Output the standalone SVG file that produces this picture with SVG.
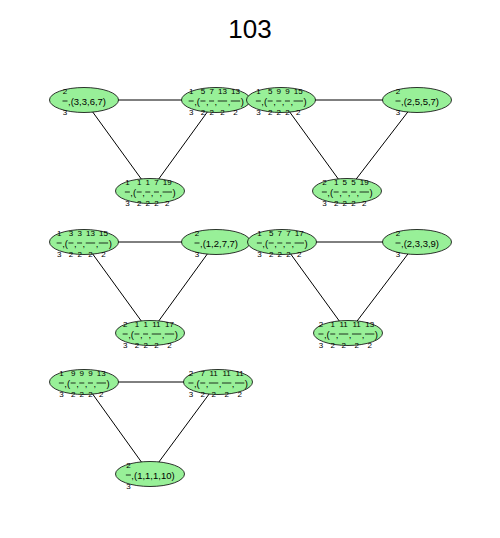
<svg xmlns="http://www.w3.org/2000/svg" width="500" height="538" viewBox="0 0 500 538">
<style>
.bg{fill:#ffffff}
.el{fill:#98f098;stroke:#000;stroke-width:0.8}
.e line{stroke:#000;stroke-width:1}
.f{font-family:"Liberation Sans",Arial,sans-serif;font-size:8px;fill:#000;text-anchor:middle}
.t{font-family:"Liberation Sans",Arial,sans-serif;font-size:9.5px;fill:#000}
.b{stroke:#000;stroke-width:0.8}
.title{font-family:"Liberation Sans",Arial,sans-serif;font-size:26px;fill:#000;text-anchor:middle}
</style>
<defs>
<g id="P1bars"><line class="b" x1="-27.35" y1="1" x2="-22.35" y2="1"/><line class="b" x1="-15.55" y1="1" x2="-10.55" y2="1"/><line class="b" x1="-6.91" y1="1" x2="-1.91" y2="1"/><line class="b" x1="1.73" y1="1" x2="11.13" y2="1"/><line class="b" x1="14.77" y1="1" x2="24.17" y2="1"/><text class="t" y="4.5"><tspan x="-21.85">,(</tspan><tspan x="-10.05">,</tspan><tspan x="-1.41">,</tspan><tspan x="11.63">,</tspan><tspan x="24.67">)</tspan></text></g>
<g id="P2bars"><line class="b" x1="-25.15" y1="1" x2="-20.15" y2="1"/><line class="b" x1="-13.35" y1="1" x2="-8.35" y2="1"/><line class="b" x1="-4.71" y1="1" x2="0.29" y2="1"/><line class="b" x1="3.93" y1="1" x2="8.93" y2="1"/><line class="b" x1="12.57" y1="1" x2="21.97" y2="1"/><text class="t" y="4.5"><tspan x="-19.65">,(</tspan><tspan x="-7.85">,</tspan><tspan x="0.79">,</tspan><tspan x="9.43">,</tspan><tspan x="22.47">)</tspan></text></g>
<g id="P3bars"><line class="b" x1="-29.55" y1="1" x2="-24.55" y2="1"/><line class="b" x1="-17.75" y1="1" x2="-12.75" y2="1"/><line class="b" x1="-9.11" y1="1" x2="0.29" y2="1"/><line class="b" x1="3.93" y1="1" x2="13.33" y2="1"/><line class="b" x1="16.97" y1="1" x2="26.37" y2="1"/><text class="t" y="4.5"><tspan x="-24.05">,(</tspan><tspan x="-12.25">,</tspan><tspan x="0.79">,</tspan><tspan x="13.83">,</tspan><tspan x="26.87">)</tspan></text></g>
<g id="Sbar"><line class="b" x1="-21.5" y1="1" x2="-16.5" y2="1"/><text class="f" x="-19" y="-6.5">2</text><text class="f" x="-19" y="14.5">3</text></g>
</defs>
<rect class="bg" x="0" y="0" width="500" height="538"/>
<text class="title" x="250" y="38">103</text>
<g class="e" id="connectors">
<line x1="84" y1="100" x2="216" y2="100"/>
<line x1="84" y1="100" x2="150" y2="191"/>
<line x1="216" y1="100" x2="150" y2="191"/>
<line x1="281" y1="100" x2="417" y2="100"/>
<line x1="281" y1="100" x2="347" y2="191"/>
<line x1="417" y1="100" x2="347" y2="191"/>
<line x1="84" y1="242" x2="216" y2="242"/>
<line x1="84" y1="242" x2="150" y2="333"/>
<line x1="216" y1="242" x2="150" y2="333"/>
<line x1="282" y1="242" x2="417" y2="242"/>
<line x1="282" y1="242" x2="348" y2="333"/>
<line x1="417" y1="242" x2="348" y2="333"/>
<line x1="84" y1="382" x2="218" y2="382"/>
<line x1="84" y1="382" x2="150" y2="474"/>
<line x1="218" y1="382" x2="150" y2="474"/>
</g>
<g id="nA" transform="translate(84,100)"><ellipse class="el" rx="34.5" ry="12.5"/><use href="#Sbar"/><text class="t" x="-16" y="4.5">,(3,3,6,7)</text></g>
<g id="nB" transform="translate(216,100)"><ellipse class="el" rx="34.5" ry="12.5"/><use href="#P1bars"/><text class="f" y="-6.5"><tspan x="-24.85">1</tspan><tspan x="-13.05">5</tspan><tspan x="-4.41">7</tspan><tspan x="6.43">13</tspan><tspan x="19.47">13</tspan></text><text class="f" y="14.5"><tspan x="-24.85">3</tspan><tspan x="-13.05">2</tspan><tspan x="-4.41">2</tspan><tspan x="6.43">2</tspan><tspan x="19.47">2</tspan></text></g>
<g id="nC" transform="translate(281,100)"><ellipse class="el" rx="34.5" ry="12.5"/><use href="#P2bars"/><text class="f" y="-6.5"><tspan x="-22.65">1</tspan><tspan x="-10.85">5</tspan><tspan x="-2.21">9</tspan><tspan x="6.43">9</tspan><tspan x="17.27">15</tspan></text><text class="f" y="14.5"><tspan x="-22.65">3</tspan><tspan x="-10.85">2</tspan><tspan x="-2.21">2</tspan><tspan x="6.43">2</tspan><tspan x="17.27">2</tspan></text></g>
<g id="nD" transform="translate(417,100)"><ellipse class="el" rx="34.5" ry="12.5"/><use href="#Sbar"/><text class="t" x="-16" y="4.5">,(2,5,5,7)</text></g>
<g id="nE" transform="translate(150,191)"><ellipse class="el" rx="34.5" ry="12.5"/><use href="#P2bars"/><text class="f" y="-6.5"><tspan x="-22.65">1</tspan><tspan x="-10.85">1</tspan><tspan x="-2.21">1</tspan><tspan x="6.43">7</tspan><tspan x="17.27">19</tspan></text><text class="f" y="14.5"><tspan x="-22.65">3</tspan><tspan x="-10.85">2</tspan><tspan x="-2.21">2</tspan><tspan x="6.43">2</tspan><tspan x="17.27">2</tspan></text></g>
<g id="nF" transform="translate(347,191)"><ellipse class="el" rx="34.5" ry="12.5"/><use href="#P2bars"/><text class="f" y="-6.5"><tspan x="-22.65">2</tspan><tspan x="-10.85">1</tspan><tspan x="-2.21">5</tspan><tspan x="6.43">5</tspan><tspan x="17.27">19</tspan></text><text class="f" y="14.5"><tspan x="-22.65">3</tspan><tspan x="-10.85">2</tspan><tspan x="-2.21">2</tspan><tspan x="6.43">2</tspan><tspan x="17.27">2</tspan></text></g>
<g id="nG" transform="translate(84,242)"><ellipse class="el" rx="34.5" ry="12.5"/><use href="#P1bars"/><text class="f" y="-6.5"><tspan x="-24.85">1</tspan><tspan x="-13.05">3</tspan><tspan x="-4.41">3</tspan><tspan x="6.43">13</tspan><tspan x="19.47">15</tspan></text><text class="f" y="14.5"><tspan x="-24.85">3</tspan><tspan x="-13.05">2</tspan><tspan x="-4.41">2</tspan><tspan x="6.43">2</tspan><tspan x="19.47">2</tspan></text></g>
<g id="nH" transform="translate(216,242)"><ellipse class="el" rx="34.5" ry="12.5"/><use href="#Sbar"/><text class="t" x="-16" y="4.5">,(1,2,7,7)</text></g>
<g id="nI" transform="translate(282,242)"><ellipse class="el" rx="34.5" ry="12.5"/><use href="#P2bars"/><text class="f" y="-6.5"><tspan x="-22.65">1</tspan><tspan x="-10.85">5</tspan><tspan x="-2.21">7</tspan><tspan x="6.43">7</tspan><tspan x="17.27">17</tspan></text><text class="f" y="14.5"><tspan x="-22.65">3</tspan><tspan x="-10.85">2</tspan><tspan x="-2.21">2</tspan><tspan x="6.43">2</tspan><tspan x="17.27">2</tspan></text></g>
<g id="nJ" transform="translate(417,242)"><ellipse class="el" rx="34.5" ry="12.5"/><use href="#Sbar"/><text class="t" x="-16" y="4.5">,(2,3,3,9)</text></g>
<g id="nK" transform="translate(150,333)"><ellipse class="el" rx="34.5" ry="12.5"/><use href="#P1bars"/><text class="f" y="-6.5"><tspan x="-24.85">2</tspan><tspan x="-13.05">1</tspan><tspan x="-4.41">1</tspan><tspan x="6.43">11</tspan><tspan x="19.47">17</tspan></text><text class="f" y="14.5"><tspan x="-24.85">3</tspan><tspan x="-13.05">2</tspan><tspan x="-4.41">2</tspan><tspan x="6.43">2</tspan><tspan x="19.47">2</tspan></text></g>
<g id="nL" transform="translate(348,333)"><ellipse class="el" rx="34.5" ry="12.5"/><use href="#P3bars"/><text class="f" y="-6.5"><tspan x="-27.05">2</tspan><tspan x="-15.25">1</tspan><tspan x="-4.41">11</tspan><tspan x="8.63">11</tspan><tspan x="21.67">13</tspan></text><text class="f" y="14.5"><tspan x="-27.05">3</tspan><tspan x="-15.25">2</tspan><tspan x="-4.41">2</tspan><tspan x="8.63">2</tspan><tspan x="21.67">2</tspan></text></g>
<g id="nM" transform="translate(84,382)"><ellipse class="el" rx="34.5" ry="12.5"/><use href="#P2bars"/><text class="f" y="-6.5"><tspan x="-22.65">1</tspan><tspan x="-10.85">9</tspan><tspan x="-2.21">9</tspan><tspan x="6.43">9</tspan><tspan x="17.27">13</tspan></text><text class="f" y="14.5"><tspan x="-22.65">3</tspan><tspan x="-10.85">2</tspan><tspan x="-2.21">2</tspan><tspan x="6.43">2</tspan><tspan x="17.27">2</tspan></text></g>
<g id="nN" transform="translate(218,382)"><ellipse class="el" rx="34.5" ry="12.5"/><use href="#P3bars"/><text class="f" y="-6.5"><tspan x="-27.05">2</tspan><tspan x="-15.25">7</tspan><tspan x="-4.41">11</tspan><tspan x="8.63">11</tspan><tspan x="21.67">11</tspan></text><text class="f" y="14.5"><tspan x="-27.05">3</tspan><tspan x="-15.25">2</tspan><tspan x="-4.41">2</tspan><tspan x="8.63">2</tspan><tspan x="21.67">2</tspan></text></g>
<g id="nO" transform="translate(150,474)"><ellipse class="el" rx="34.5" ry="12.5"/><line class="b" x1="-24.15" y1="1" x2="-19.15" y2="1"/><text class="f" x="-21.65" y="-6.5">2</text><text class="f" x="-21.65" y="14.5">3</text><text class="t" x="-18.65" y="4.5">,(1,1,1,10)</text></g>
</svg>
